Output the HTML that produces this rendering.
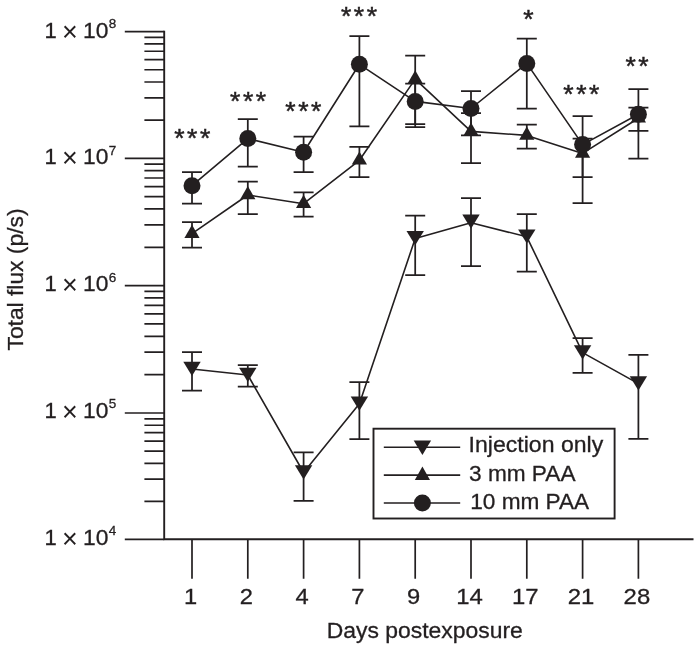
<!DOCTYPE html>
<html lang="en"><head><meta charset="utf-8"><title>Total flux vs days postexposure</title>
<style>html,body{margin:0;padding:0;background:#fff}svg{display:block}</style></head>
<body>
<svg width="700" height="650" viewBox="0 0 700 650">
<rect width="700" height="650" fill="#fff"/>
<g fill="none" stroke="#231f20" stroke-width="1.7">
<path d="M164.2 30.65V539.3H693.5" stroke-width="1.9"/>
<path d="M124.8 31.60H164.2M144.4 120.16H164.2M144.4 97.85H164.2M144.4 82.02H164.2M144.4 69.74H164.2M144.4 59.71H164.2M144.4 51.23H164.2M144.4 43.88H164.2M144.4 37.40H164.2M124.8 158.30H164.2M144.4 247.28H164.2M144.4 224.86H164.2M144.4 208.96H164.2M144.4 196.62H164.2M144.4 186.54H164.2M144.4 178.02H164.2M144.4 170.64H164.2M144.4 164.12H164.2M124.8 285.60H164.2M144.4 374.65H164.2M144.4 352.21H164.2M144.4 336.30H164.2M144.4 323.95H164.2M144.4 313.86H164.2M144.4 305.33H164.2M144.4 297.95H164.2M144.4 291.43H164.2M124.8 413.00H164.2M144.4 501.35H164.2M144.4 479.09H164.2M144.4 463.30H164.2M144.4 451.05H164.2M144.4 441.04H164.2M144.4 432.58H164.2M144.4 425.25H164.2M144.4 418.78H164.2M124.8 539.40H164.2"/>
<path d="M192.00 539.3V578.8M247.80 539.3V578.8M303.60 539.3V578.8M359.40 539.3V578.8M415.20 539.3V578.8M471.00 539.3V578.8M526.80 539.3V578.8M582.60 539.3V578.8M638.40 539.3V578.8"/>
</g>
<g fill="none" stroke="#231f20" stroke-width="1.75">
<path d="M192.00 352V390.6M182.00 352h20.0M182.00 390.6h20.0M247.80 365V386.6M237.80 365h20.0M237.80 386.6h20.0M303.60 452.3V500.9M293.60 452.3h20.0M293.60 500.9h20.0M359.40 382V439.1M349.40 382h20.0M349.40 439.1h20.0M415.20 215.7V275.1M405.20 215.7h20.0M405.20 275.1h20.0M471.00 198V266M461.00 198h20.0M461.00 266h20.0M526.80 214V271.5M516.80 214h20.0M516.80 271.5h20.0M582.60 338V372.8M572.60 338h20.0M572.60 372.8h20.0M638.40 354.8V438.8M628.40 354.8h20.0M628.40 438.8h20.0"/>
<path d="M192.00 222V247.7M182.00 222h20.0M182.00 247.7h20.0M247.80 181.6V214M237.80 181.6h20.0M237.80 214h20.0M303.60 192.3V216.6M293.60 192.3h20.0M293.60 216.6h20.0M359.40 146.9V177.1M349.40 146.9h20.0M349.40 177.1h20.0M415.20 55.7V124M405.20 55.7h20.0M405.20 124h20.0M471.00 113.2V163.2M461.00 113.2h20.0M461.00 163.2h20.0M526.80 124.6V148.6M516.80 124.6h20.0M516.80 148.6h20.0M582.60 138.5V177.1M572.60 138.5h20.0M572.60 177.1h20.0M638.40 107.7V130.8M628.40 107.7h20.0M628.40 130.8h20.0"/>
<path d="M192.00 172V203.7M182.00 172h20.0M182.00 203.7h20.0M247.80 119.1V166.6M237.80 119.1h20.0M237.80 166.6h20.0M303.60 136.6V172M293.60 136.6h20.0M293.60 172h20.0M359.40 36V126.3M349.40 36h20.0M349.40 126.3h20.0M415.20 83.5V127.2M405.20 83.5h20.0M405.20 127.2h20.0M471.00 91V135.4M461.00 91h20.0M461.00 135.4h20.0M526.80 38.6V108.6M516.80 38.6h20.0M516.80 108.6h20.0M582.60 116V203.2M572.60 116h20.0M572.60 203.2h20.0M638.40 89V158.7M628.40 89h20.0M628.40 158.7h20.0"/>
</g>
<g fill="none" stroke="#231f20" stroke-width="1.6" stroke-linejoin="round">
<path d="M192.00 369.0L247.80 375.0L303.60 472.5L359.40 403.8L415.20 238.5L471.00 222.7L526.80 236.8L582.60 352.6L638.40 383.6"/>
<path d="M192.00 233.7L247.80 195L303.60 203.7L359.40 160.3L415.20 79.1L471.00 131.4L526.80 135.4L582.60 153.4L638.40 118.2"/>
<path d="M192.00 185.7L247.80 138.6L303.60 152.3L359.40 64.3L415.20 101.4L471.00 108.5L526.80 63.4L582.60 144.6L638.40 114.3"/>
</g>
<g fill="#231f20" stroke="none">
<path d="M183.30 361.70h17.4L192.00 375.90z"/>
<path d="M239.10 367.70h17.4L247.80 381.90z"/>
<path d="M294.90 465.20h17.4L303.60 479.40z"/>
<path d="M350.70 396.50h17.4L359.40 410.70z"/>
<path d="M406.50 231.10h17.4L415.20 245.30z"/>
<path d="M462.30 214.60h17.4L471.00 228.80z"/>
<path d="M518.10 229.40h17.4L526.80 243.60z"/>
<path d="M573.90 345.30h17.4L582.60 359.50z"/>
<path d="M629.70 376.30h17.4L638.40 390.50z"/>
<path d="M184.40 238.00h15.2L192.00 224.80z"/>
<path d="M240.20 199.30h15.2L247.80 186.10z"/>
<path d="M296.00 208.00h15.2L303.60 194.80z"/>
<path d="M351.80 164.60h15.2L359.40 151.40z"/>
<path d="M407.60 83.40h15.2L415.20 70.20z"/>
<path d="M463.40 135.70h15.2L471.00 122.50z"/>
<path d="M519.20 139.70h15.2L526.80 126.50z"/>
<path d="M575.00 157.70h15.2L582.60 144.50z"/>
<path d="M630.80 122.50h15.2L638.40 109.30z"/>
<circle cx="192.00" cy="185.7" r="8.5"/>
<circle cx="247.80" cy="138.6" r="8.5"/>
<circle cx="303.60" cy="152.3" r="8.5"/>
<circle cx="359.40" cy="64.3" r="8.5"/>
<circle cx="415.20" cy="101.4" r="8.5"/>
<circle cx="471.00" cy="108.5" r="8.5"/>
<circle cx="526.80" cy="63.4" r="8.5"/>
<circle cx="582.60" cy="144.6" r="8.5"/>
<circle cx="638.40" cy="114.3" r="8.5"/>
</g>
<rect x="373.5" y="428.7" width="241.1" height="89.8" fill="#fff" stroke="#231f20" stroke-width="1.9"/>
<path d="M383.8 447.3H460.2M383.8 475.1H460.2M383.8 503H460.2" fill="none" stroke="#231f20" stroke-width="1.6"/>
<g fill="#231f20"><path d="M413.70 440.6h17.4L422.4 454.9z"/><path d="M414.80 479.9h15.2L422.4 466.6z"/><circle cx="422.4" cy="503" r="8.5"/></g>
<g fill="#231f20" stroke="#231f20" stroke-width="0.3" font-family="'Liberation Sans', Arial, Helvetica, sans-serif" font-size="22">
<text x="468.6" y="452.4" textLength="134.6" lengthAdjust="spacingAndGlyphs">Injection only</text>
<text x="469.0" y="481.0" textLength="106.5" lengthAdjust="spacingAndGlyphs">3 mm PAA</text>
<text x="470.2" y="509.0" textLength="119" lengthAdjust="spacingAndGlyphs">10 mm PAA</text>
<text x="326.7" y="638.2" textLength="196.1" lengthAdjust="spacingAndGlyphs">Days postexposure</text>
<text transform="translate(23.0 350.5) rotate(-90)" textLength="142" lengthAdjust="spacingAndGlyphs">Total flux (p/s)</text>
<text x="190.50" y="603.8" text-anchor="middle" textLength="13.2" lengthAdjust="spacingAndGlyphs">1</text>
<text x="246.30" y="603.8" text-anchor="middle" textLength="13.2" lengthAdjust="spacingAndGlyphs">2</text>
<text x="302.10" y="603.8" text-anchor="middle" textLength="13.2" lengthAdjust="spacingAndGlyphs">4</text>
<text x="357.90" y="603.8" text-anchor="middle" textLength="13.2" lengthAdjust="spacingAndGlyphs">7</text>
<text x="413.70" y="603.8" text-anchor="middle" textLength="13.2" lengthAdjust="spacingAndGlyphs">9</text>
<text x="469.50" y="603.8" text-anchor="middle" textLength="26.6" lengthAdjust="spacingAndGlyphs">14</text>
<text x="525.30" y="603.8" text-anchor="middle" textLength="26.6" lengthAdjust="spacingAndGlyphs">17</text>
<text x="581.10" y="603.8" text-anchor="middle" textLength="26.6" lengthAdjust="spacingAndGlyphs">21</text>
<text x="636.90" y="603.8" text-anchor="middle" textLength="26.6" lengthAdjust="spacingAndGlyphs">28</text>
<text x="44.4" y="37.70">1</text><text x="61.9" y="40.70" font-size="27" stroke="none">×</text><text x="83.0" y="37.70" textLength="25.4" lengthAdjust="spacingAndGlyphs">10</text>
<text x="108.8" y="27.90" font-size="13.5">8</text>
<text x="44.4" y="164.30">1</text><text x="61.9" y="167.30" font-size="27" stroke="none">×</text><text x="83.0" y="164.30" textLength="25.4" lengthAdjust="spacingAndGlyphs">10</text>
<text x="108.8" y="154.50" font-size="13.5">7</text>
<text x="44.4" y="291.30">1</text><text x="61.9" y="294.30" font-size="27" stroke="none">×</text><text x="83.0" y="291.30" textLength="25.4" lengthAdjust="spacingAndGlyphs">10</text>
<text x="108.8" y="281.50" font-size="13.5">6</text>
<text x="44.4" y="417.90">1</text><text x="61.9" y="420.90" font-size="27" stroke="none">×</text><text x="83.0" y="417.90" textLength="25.4" lengthAdjust="spacingAndGlyphs">10</text>
<text x="108.8" y="408.10" font-size="13.5">5</text>
<text x="44.4" y="544.70">1</text><text x="61.9" y="547.70" font-size="27" stroke="none">×</text><text x="83.0" y="544.70" textLength="25.4" lengthAdjust="spacingAndGlyphs">10</text>
<text x="108.8" y="534.90" font-size="13.5">4</text>
</g>
<g fill="#231f20" font-family="'Liberation Sans', Arial, Helvetica, sans-serif" font-size="26.5" text-anchor="middle" letter-spacing="2.54" stroke="#231f20" stroke-width="0.5">
<text x="193.47" y="147.40">***</text>
<text x="249.37" y="110.10">***</text>
<text x="304.57" y="120.10">***</text>
<text x="360.27" y="24.60">***</text>
<text x="529.57" y="27.80">*</text>
<text x="582.57" y="102.90">***</text>
<text x="638.37" y="74.60">**</text>
</g>
</svg>
</body></html>
